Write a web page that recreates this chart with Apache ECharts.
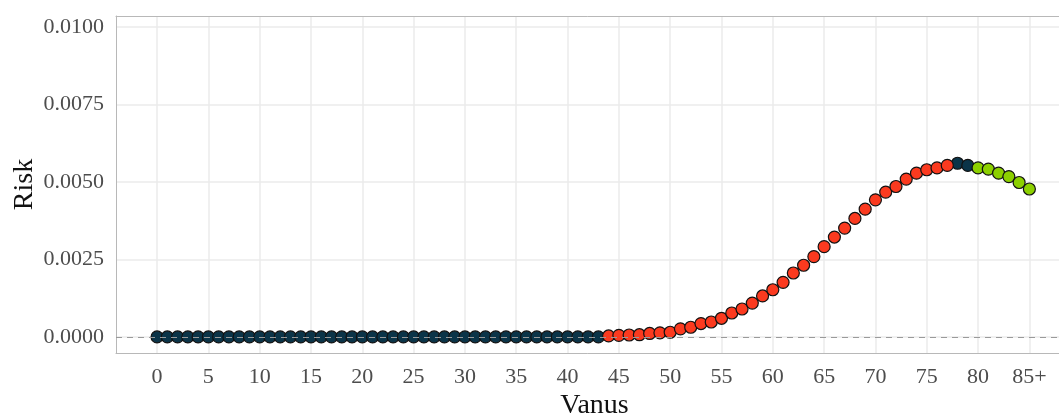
<!DOCTYPE html>
<html>
<head>
<meta charset="utf-8">
<script src="https://cdn.jsdelivr.net/npm/echarts@6/dist/echarts.min.js"></script>
<style>
html,body{margin:0;padding:0;background:#fff;}
#chart{width:1059px;height:417px;}
</style>
</head>
<body>
<div id="chart"></div>
<script>
// ---- data ----
const ages = [0,1,2,3,4,5,6,7,8,9,10,11,12,13,14,15,16,17,18,19,20,21,22,23,24,25,26,27,28,29,
  30,31,32,33,34,35,36,37,38,39,40,41,42,43,44,45,46,47,48,49,50,51,52,53,54,55,56,57,58,59,
  60,61,62,63,64,65,66,67,68,69,70,71,72,73,74,75,76,77,78,79,80,81,82,83,84,85];
const risk = [0,0,0,0,0,0,0,0,0,0,0,0,0,0,0,0,0,0,0,0,0,0,0,0,0,0,0,0,0,0,
  0,0,0,0,0,0,0,0,0,0,0,0,0,0,
  0.00003,0.00005,0.00006,0.00007,0.00011,0.00013,0.00015,0.00026,0.00031,0.00043,0.00048,
  0.00060,0.00077,0.00090,0.00109,0.00132,0.00152,0.00176,0.00206,0.00231,0.00259,
  0.00291,0.00322,0.00351,0.00382,0.00412,0.00442,0.00467,0.00485,0.00509,0.00528,
  0.00539,0.00545,0.00553,
  0.00560,0.00553,
  0.00545,0.00541,0.00528,0.00517,0.00498,0.00477];
// group of each point: L = dark, M = red, H = green
const groups = ("LLLLLLLLLLLLLLLLLLLLLLLLLLLLLLLLLLLLLLLLLLLL" +
  "MMMMMMMMMMMMMMMMMMMMMMMMMMMMMMMMMM" + "LL" + "HHHHHH").split("");
const groupColors = {L:"#0B3448", M:"#FB3A1F", H:"#8CD000"};
const xTicks = [0,5,10,15,20,25,30,35,40,45,50,55,60,65,70,75,80,85];
const xTickLabels = ["0","5","10","15","20","25","30","35","40","45","50","55","60","65","70","75","80","85+"];
const yTicks = [0,0.0025,0.005,0.0075,0.01];
const yTickLabels = ["0.0000","0.0025","0.0050","0.0075","0.0100"];

// ---- chart ----
const font = "'Liberation Serif', 'DejaVu Serif', serif";
const borderLine = {show: true, onZero: false, lineStyle: {color: "#B8B8B8", width: 1}};
function seriesFor(g, z, withLine) {
  const pts = [];
  ages.forEach((a, i) => { if (groups[i] === g) pts.push([a, risk[i]]); });
  const s = {
    type: "scatter",
    data: pts,
    symbol: "circle",
    symbolSize: 12,
    z: z,
    itemStyle: {color: groupColors[g], borderColor: "#111", borderWidth: 1.2, opacity: 1},
    emphasis: {disabled: true}
  };
  if (withLine) {
    s.markLine = {
      silent: true, symbol: "none", animation: false,
      label: {show: false},
      lineStyle: {color: "#9a9a9a", type: [6, 5], width: 1},
      data: [{yAxis: 0}]
    };
  }
  return s;
}

const chart = echarts.init(document.getElementById("chart"), null, {renderer: "canvas"});
chart.setOption({
  animation: false,
  backgroundColor: "#fff",
  grid: {left: 116, top: 16, right: -14, bottom: 64, show: false, outerBoundsMode: "none",
         containLabel: false},
  xAxis: [{
    type: "value", min: -4, max: 89.25, position: "bottom",
    name: "Vanus", nameLocation: "middle", nameGap: 39, nameMoveOverlap: false,
    nameTextStyle: {fontFamily: font, fontSize: 28, color: "#111"},
    axisLine: borderLine,
    axisTick: {show: false, customValues: xTicks},
    axisLabel: {customValues: xTicks, margin: 13, fontFamily: font, fontSize: 22, color: "#4D4D4D",
      formatter: v => xTickLabels[xTicks.indexOf(v)]},
    splitLine: {show: true, lineStyle: {color: "#EBEBEB", width: 1.5}}
  }, {
    type: "value", min: -4, max: 89.25, position: "top",
    axisLine: borderLine,
    axisTick: {show: false}, axisLabel: {show: false}, splitLine: {show: false}
  }],
  yAxis: {
    type: "value", min: -0.00052, max: 0.01035,
    name: "Risk", nameLocation: "middle", nameGap: 77, nameRotate: 90, nameMoveOverlap: false,
    nameTextStyle: {fontFamily: font, fontSize: 28, color: "#111"},
    axisLine: borderLine,
    axisTick: {show: false, customValues: yTicks},
    axisLabel: {customValues: yTicks, margin: 12, fontFamily: font, fontSize: 22, color: "#4D4D4D",
      formatter: v => yTickLabels[yTicks.findIndex(t => Math.abs(t - v) < 1e-9)]},
    splitLine: {show: true, lineStyle: {color: "#EBEBEB", width: 1.5}}
  },
  series: [seriesFor("L", 2, true), seriesFor("M", 4, false), seriesFor("H", 4, false)]
});
</script>
</body>
</html>
